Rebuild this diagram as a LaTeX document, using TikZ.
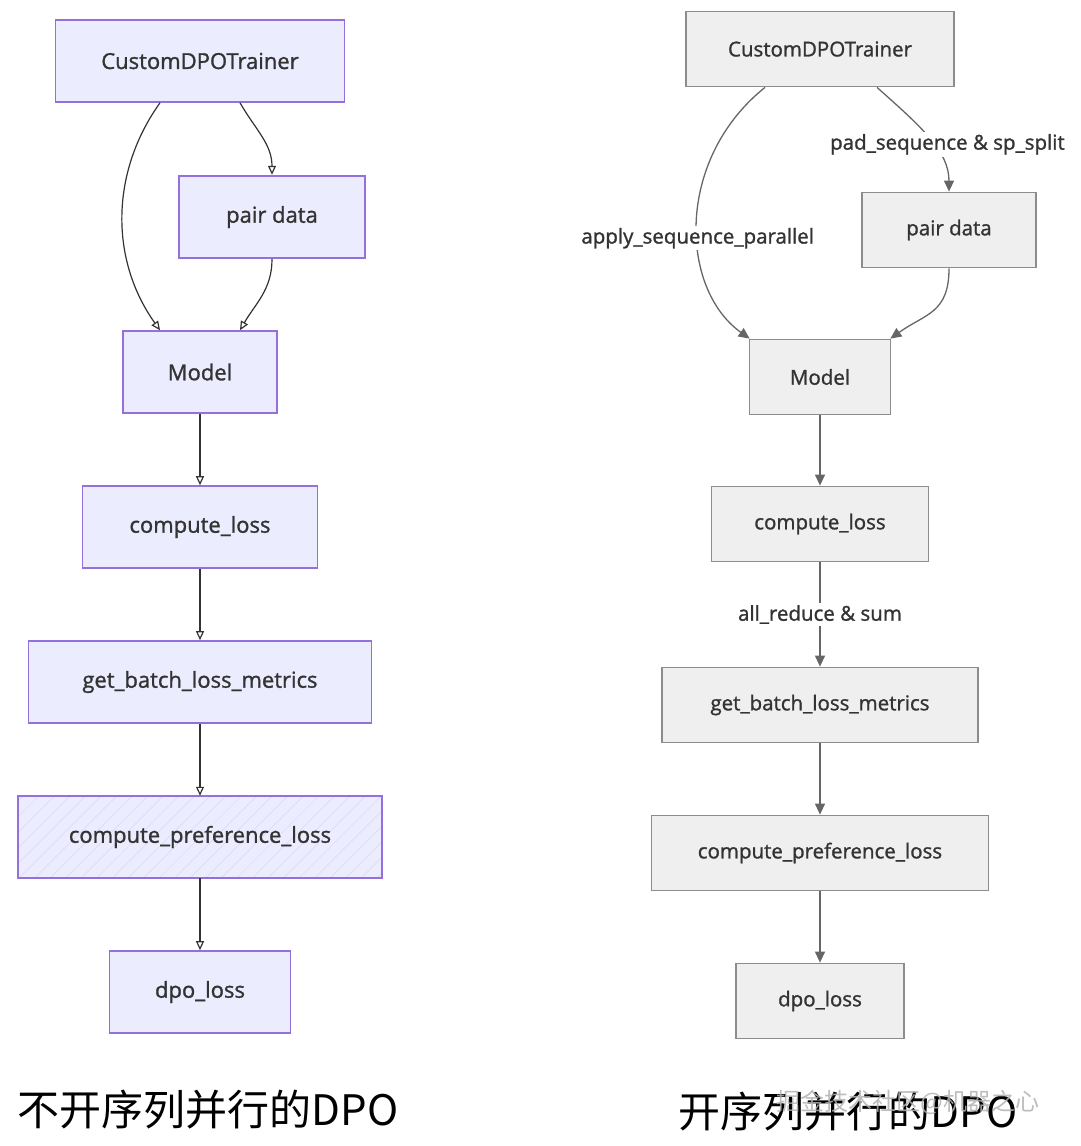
\documentclass[tikz,border=0pt]{standalone}
\usepackage{fontspec}
\setmainfont{Open Sans}
\newfontfamily\boxfont{Open Sans}[FakeBold=1.2]
\newfontfamily\cjk{Noto Sans CJK SC}
\usetikzlibrary{arrows.meta,patterns.meta}
\definecolor{lfill}{HTML}{ECECFF}
\definecolor{lline}{HTML}{9370DB}
\definecolor{rfill}{HTML}{EFEFEF}
\definecolor{rline}{HTML}{8C8C8C}
\definecolor{txt}{HTML}{333333}
\definecolor{redgec}{HTML}{666666}

\begin{document}
\begin{tikzpicture}[x=1pt,y=1pt,thick,node distance=155pt,every node/.style={text=txt},
  lbox/.style={draw=lline,fill=lfill,line width=1.6pt,minimum height=82pt,font=\boxfont\fontsize{22}{26}\selectfont},
  rbox/.style={draw=rline,fill=rfill,line width=1.8pt,minimum height=75pt,font=\boxfont\fontsize{20.5}{24}\selectfont},
  ledge/.style={draw=txt,line width=1.2pt,-{Triangle[open,length=9pt,width=8pt]}},
  redge/.style={draw=redgec,line width=1.3pt,-{Triangle[length=11pt,width=10pt]}},
  lab/.style={fill=white,inner sep=2pt,font=\boxfont\fontsize{20.5}{24}\selectfont},
  title/.style={font=\cjk\fontsize{42}{48}\selectfont,text=black}]
\useasboundingbox (0,0) rectangle (1080,-1146);
% without sequence parallel
\node[lbox,minimum width=289pt] (ltrain) at (200,-61) {CustomDPOTrainer};
\node[lbox,minimum width=186pt,line width=2.4pt] (lpair) at (272,-217) {pair data};
\node[lbox,minimum width=154pt] (lmodel) at (200,-372) {Model};
\node[lbox,minimum width=235pt] (lloss) [below of=lmodel] {compute\_loss};
\node[lbox,minimum width=343pt] (lbatch) [below of=lloss] {get\_batch\_loss\_metrics};
\node[lbox,minimum width=364pt,preaction={fill=lfill},pattern={Lines[angle=45,distance=11pt,line width=0.5pt]},pattern color=lline!30] (lpref) [below of=lbatch] {compute\_preference\_loss};
\node[lbox,minimum width=181pt] (ldpo) [below of=lpref] {dpo\_loss};
\draw[ledge] ([xshift=-40pt]ltrain.south) .. controls +(-50,-70) and +(-50,70) .. ([xshift=-40pt]lmodel.north);
\draw[ledge] ([xshift=40pt]ltrain.south) to[out=-60,in=90] (lpair.north);
\draw[ledge] (lpair.south) to[out=-90,in=60] ([xshift=40pt]lmodel.north);
\draw[ledge] (lmodel) -- (lloss);
\draw[ledge] (lloss) -- (lbatch);
\draw[ledge] (lbatch) -- (lpref);
\draw[ledge] (lpref) -- (ldpo);
% with sequence parallel
\node[rbox,minimum width=268pt] (rtrain) at (820,-49) {CustomDPOTrainer};
\node[rbox,minimum width=174pt] (rpair) at (949,-230) {pair data};
\node[rbox,minimum width=141pt] (rmodel) at (820,-377) {Model};
\node[rbox,minimum width=217pt,node distance=147pt] (rloss) [below of=rmodel] {compute\_loss};
\node[rbox,minimum width=316pt,node distance=181pt] (rbatch) [below of=rloss] {get\_batch\_loss\_metrics};
\node[rbox,minimum width=337pt,node distance=148pt] (rpref) [below of=rbatch] {compute\_preference\_loss};
\node[rbox,minimum width=168pt,node distance=148pt] (rdpo) [below of=rpref] {dpo\_loss};
\draw[redge] ([xshift=-55pt]rtrain.south) .. controls +(-90,-72) and +(-70,50) .. node[lab,pos=0.56] {apply\_sequence\_parallel} ([xshift=1pt]rmodel.north west);
\draw[redge] ([xshift=57pt]rtrain.south) .. controls +(45,-40) and +(0,40) .. node[lab,pos=0.55,xshift=14pt] {pad\_sequence \& sp\_split} (rpair.north);
\draw[redge] (rpair.south) .. controls +(0,-45) and +(35,25) .. ([xshift=-1pt]rmodel.north east);
\draw[redge] (rmodel) -- (rloss);
\draw[redge] (rloss) -- node[lab] {all\_reduce \& sum} (rbatch);
\draw[redge] (rbatch) -- (rpref);
\draw[redge] (rpref) -- (rdpo);
% titles
\node[title] (ltitle) at (208,-1110) {不开序列并行的DPO};
\node[title] (rtitle) at (848,-1112) {开序列并行的DPO};
\node[font=\cjk\fontsize{24}{28}\selectfont,text=gray!60,opacity=.85] (mark) at (908,-1102) {掘金技术社区@机器之心};
\end{tikzpicture}
\end{document}
